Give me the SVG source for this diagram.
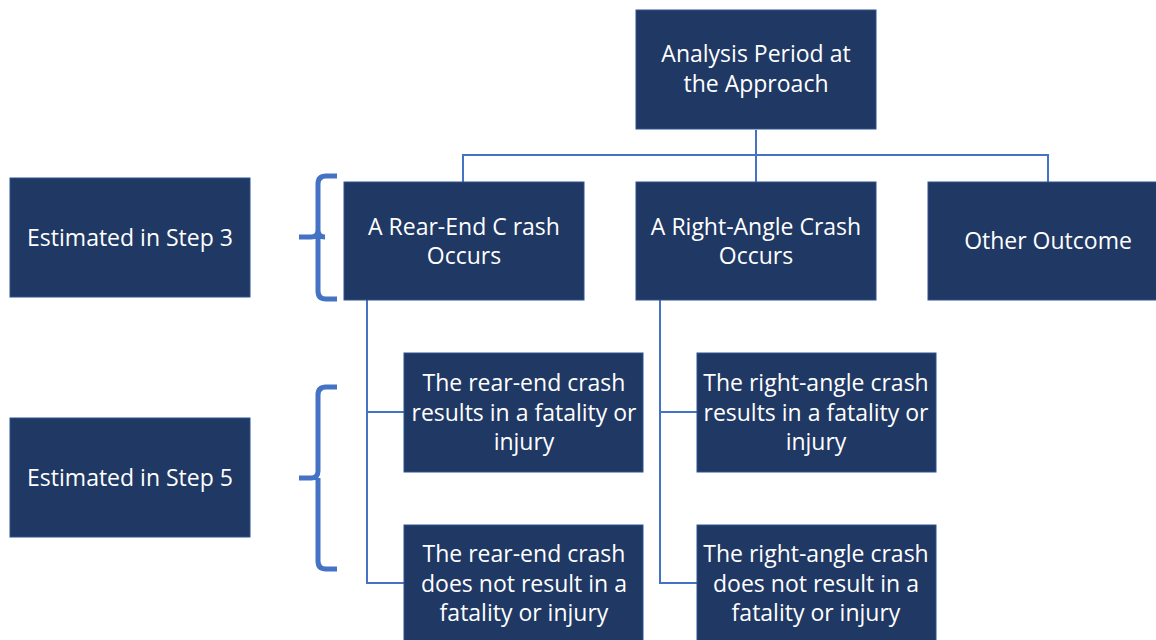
<svg xmlns="http://www.w3.org/2000/svg" width="1156" height="640" viewBox="0 0 1156 640">
<style>
.box{fill:#203864;stroke:#2F528F;stroke-width:1}
.t{font-family:"Open Sans","Noto Sans",sans-serif;font-size:23px;fill:#ffffff;text-anchor:middle}
.conn{fill:none;stroke:#4472C4;stroke-width:2}
.brace{fill:none;stroke:#4472C4;stroke-width:5;stroke-linecap:butt}
</style>
<rect width="1156" height="640" fill="#ffffff"/>
<g id="connectors">
<path class="conn" d="M756 130V182M463 182V155H1048V182"/>
<path class="conn" d="M367 300V583H404M367 412H404"/>
<path class="conn" d="M660 300V583H697M660 412H697"/>
</g>
<g id="braces">
<path class="brace" d="M337 176H326Q318 176 318 184V230Q318 237 311 237H299M318 230Q318 237 325 237M318 237V291Q318 299 326 299H337"/>
<path class="brace" d="M337 387H326Q318 387 318 395V471Q318 478 311 478H299M318 478V561Q318 569 326 569H337"/>
</g>
<g id="n-top"><rect class="box" x="636" y="10" width="240" height="119"/>
<text class="t" x="756" y="62">Analysis Period at</text><text class="t" x="756" y="92">the Approach</text></g>
<g id="n-step3"><rect class="box" x="10" y="178" width="240" height="119"/>
<text class="t" x="130" y="246">Estimated in Step 3</text></g>
<g id="n-step5"><rect class="box" x="10" y="418" width="240" height="119"/>
<text class="t" x="130" y="486">Estimated in Step 5</text></g>
<g id="n-rear"><rect class="box" x="344" y="182" width="240" height="118"/>
<text class="t" x="464" y="235">A Rear-End C rash</text><text class="t" x="464" y="264">Occurs</text></g>
<g id="n-right"><rect class="box" x="636" y="182" width="240" height="118"/>
<text class="t" x="756" y="235">A Right-Angle Crash</text><text class="t" x="756" y="264">Occurs</text></g>
<g id="n-other"><rect class="box" x="928" y="182" width="240" height="118"/>
<text class="t" x="1048" y="249">Other Outcome</text></g>
<g id="n-rear-inj"><rect class="box" x="404" y="353" width="239" height="119"/>
<text class="t" x="524" y="391">The rear-end crash</text><text class="t" x="524" y="421">results in a fatality or</text><text class="t" x="524" y="450">injury</text></g>
<g id="n-right-inj"><rect class="box" x="697" y="353" width="239" height="119"/>
<text class="t" x="816" y="391">The right-angle crash</text><text class="t" x="816" y="421">results in a fatality or</text><text class="t" x="816" y="450">injury</text></g>
<g id="n-rear-no"><rect class="box" x="404" y="525" width="239" height="125"/>
<text class="t" x="524" y="562">The rear-end crash</text><text class="t" x="524" y="592">does not result in a</text><text class="t" x="524" y="621">fatality or injury</text></g>
<g id="n-right-no"><rect class="box" x="697" y="525" width="239" height="125"/>
<text class="t" x="816" y="562">The right-angle crash</text><text class="t" x="816" y="592">does not result in a</text><text class="t" x="816" y="621">fatality or injury</text></g>
</svg>
